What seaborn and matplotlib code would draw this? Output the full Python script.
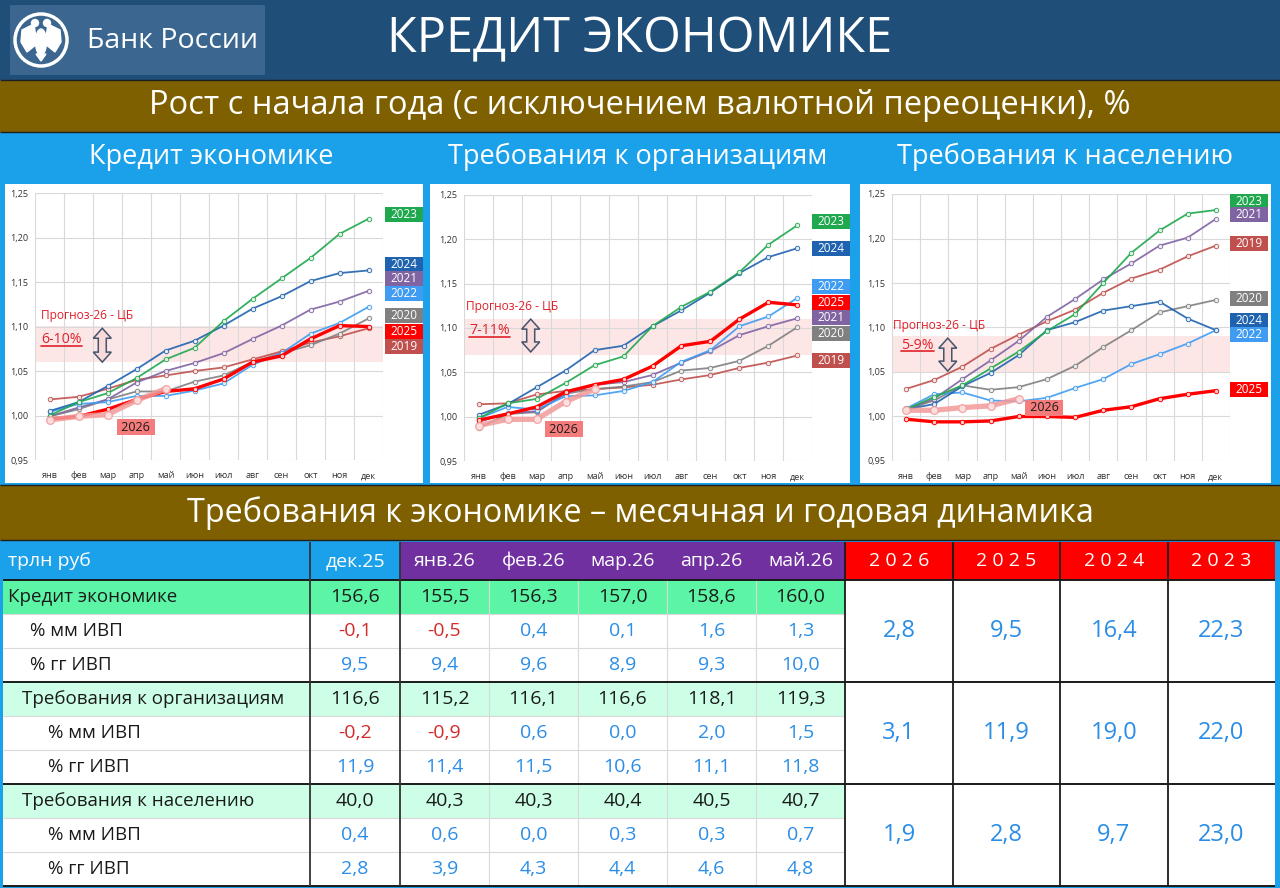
import numpy as np
import pandas as pd
import matplotlib
matplotlib.use("Agg")
import matplotlib.pyplot as plt
import matplotlib.patches as mpatches
import matplotlib.transforms as mtransforms
from matplotlib.lines import Line2D
import seaborn as sns

months = ["янв", "фев", "мар", "апр", "май", "июн", "июл", "авг", "сен", "окт", "ноя", "дек"]
years = ["2019", "2020", "2021", "2022", "2024", "2023", "2025", "2026"]
nan = np.nan

# Кредит экономике, рост с начала года
credit = {
    "2019": [1.018, 1.021, 1.030, 1.040, 1.045, 1.050, 1.054, 1.063, 1.072, 1.082, 1.089, 1.098],
    "2020": [0.999, 1.007, 1.018, 1.027, 1.027, 1.038, 1.045, 1.060, 1.070, 1.079, 1.092, 1.109],
    "2021": [0.999, 1.009, 1.018, 1.037, 1.050, 1.059, 1.070, 1.086, 1.101, 1.119, 1.128, 1.140],
    "2022": [1.004, 1.013, 1.015, 1.022, 1.022, 1.028, 1.036, 1.057, 1.070, 1.092, 1.104, 1.122],
    "2023": [1.000, 1.015, 1.025, 1.042, 1.063, 1.076, 1.106, 1.131, 1.154, 1.177, 1.204, 1.221],
    "2024": [1.005, 1.015, 1.033, 1.052, 1.073, 1.084, 1.101, 1.120, 1.134, 1.151, 1.160, 1.163],
    "2025": [0.996, 0.999, 1.007, 1.018, 1.027, 1.030, 1.041, 1.060, 1.067, 1.086, 1.101, 1.100],
    "2026": [0.995, 0.999, 1.001, 1.017, 1.030, nan, nan, nan, nan, nan, nan, nan],
}
# Требования к организациям
corp = {
    "2019": [1.014, 1.015, 1.025, 1.029, 1.031, 1.033, 1.036, 1.042, 1.047, 1.055, 1.061, 1.069],
    "2020": [0.987, 1.003, 1.005, 1.026, 1.031, 1.034, 1.039, 1.052, 1.055, 1.063, 1.080, 1.101],
    "2021": [0.994, 1.004, 1.006, 1.026, 1.036, 1.039, 1.047, 1.061, 1.074, 1.092, 1.102, 1.111],
    "2022": [0.998, 1.011, 1.008, 1.023, 1.024, 1.029, 1.039, 1.062, 1.075, 1.102, 1.113, 1.134],
    "2023": [0.998, 1.015, 1.020, 1.038, 1.058, 1.068, 1.102, 1.124, 1.141, 1.163, 1.194, 1.216],
    "2024": [1.002, 1.014, 1.033, 1.052, 1.075, 1.080, 1.102, 1.120, 1.140, 1.162, 1.180, 1.190],
    "2025": [0.996, 1.003, 1.011, 1.028, 1.036, 1.042, 1.057, 1.080, 1.085, 1.110, 1.129, 1.126],
    "2026": [0.990, 0.997, 0.997, 1.017, 1.031, nan, nan, nan, nan, nan, nan, nan],
}
# Требования к населению
house = {
    "2019": [1.031, 1.041, 1.056, 1.076, 1.092, 1.107, 1.120, 1.139, 1.155, 1.165, 1.180, 1.192],
    "2020": [1.008, 1.018, 1.035, 1.030, 1.033, 1.042, 1.057, 1.078, 1.097, 1.117, 1.124, 1.131],
    "2021": [1.008, 1.020, 1.042, 1.063, 1.085, 1.112, 1.132, 1.154, 1.172, 1.192, 1.201, 1.222],
    "2022": [1.009, 1.025, 1.027, 1.018, 1.017, 1.021, 1.032, 1.042, 1.059, 1.070, 1.082, 1.097],
    "2023": [1.008, 1.022, 1.035, 1.054, 1.073, 1.096, 1.115, 1.150, 1.184, 1.209, 1.228, 1.232],
    "2024": [1.008, 1.014, 1.034, 1.049, 1.069, 1.097, 1.106, 1.119, 1.124, 1.129, 1.110, 1.097],
    "2025": [0.997, 0.994, 0.994, 0.995, 1.000, 1.000, 0.999, 1.007, 1.011, 1.020, 1.025, 1.029],
    "2026": [1.007, 1.007, 1.010, 1.012, 1.020, nan, nan, nan, nan, nan, nan, nan],
}

# где стоят подписи лет справа
credit_lbl = {"2023": 1.226, "2024": 1.170, "2021": 1.154, "2022": 1.137, "2020": 1.112, "2025": 1.094, "2019": 1.078}
corp_lbl = {"2023": 1.220, "2024": 1.190, "2022": 1.147, "2025": 1.129, "2021": 1.112, "2020": 1.094, "2019": 1.063}
house_lbl = {"2023": 1.242, "2021": 1.227, "2019": 1.194, "2020": 1.133, "2024": 1.108, "2022": 1.092, "2025": 1.030}

forecast_txt = ["6-10%", "7-11%", "5-9%"]
forecast_lo = [1.06, 1.07, 1.05]
forecast_hi = [1.10, 1.11, 1.09]

# таблица
table_cols = ["дек.25", "янв.26", "фев.26", "мар.26", "апр.26", "май.26"]
row_labels = ["Кредит экономике", "% мм ИВП", "% гг ИВП",
              "Требования к организациям", "% мм ИВП", "% гг ИВП",
              "Требования к населению", "% мм ИВП", "% гг ИВП"]
credit_level = [156.6, 155.5, 156.3, 157.0, 158.6, 160.0]
credit_mm = [-0.1, -0.5, 0.4, 0.1, 1.6, 1.3]
credit_yy = [9.5, 9.4, 9.6, 8.9, 9.3, 10.0]
corp_level = [116.6, 115.2, 116.1, 116.6, 118.1, 119.3]
corp_mm = [-0.2, -0.9, 0.6, 0.0, 2.0, 1.5]
corp_yy = [11.9, 11.4, 11.5, 10.6, 11.1, 11.8]
house_level = [40.0, 40.3, 40.3, 40.4, 40.5, 40.7]
house_mm = [0.4, 0.6, 0.0, 0.3, 0.3, 0.7]
house_yy = [2.8, 3.9, 4.3, 4.4, 4.6, 4.8]
year_cols = ["2 0 2 6", "2 0 2 5", "2 0 2 4", "2 0 2 3"]
credit_ytd = [2.8, 9.5, 16.4, 22.3]
corp_ytd = [3.1, 11.9, 19.0, 22.0]
house_ytd = [1.9, 2.8, 9.7, 23.0]

NAVY = "#1F4E79"
OLIVE = "#7F6000"
SKY = "#1BA1EA"
RED_TXT = "#E0202A"
BLUE_TXT = "#2A8DE6"
colors = {"2019": "#C0504D", "2020": "#808080", "2021": "#8064A2", "2022": "#3F9CF2",
          "2023": "#1FA84E", "2024": "#1F63B0", "2025": "#FF0000", "2026": "#F39A9A"}

sns.set_style("white")
plt.rcParams["font.family"] = ["Open Sans", "DejaVu Sans"]

fig = plt.figure(figsize=(12.8, 8.88), dpi=100)
bg = fig.add_axes([0, 0, 1, 1], zorder=0)
bg.set_xlim(0, 1280)
bg.set_ylim(888, 0)
bg.axis("off")


def rect(x0, y0, x1, y1, color):
    bg.add_patch(mpatches.Rectangle((x0, y0), x1 - x0, y1 - y0, facecolor=color, edgecolor="none"))


def line(xs, ys, color="#1a1a1a", lw=1.0):
    bg.plot(xs, ys, color=color, lw=lw, solid_capstyle="butt")


def fmt(v):
    return f"{v:.1f}".replace(".", ",")


# фон и полосы
rect(0, 0, 1280, 888, SKY)
rect(0, 0, 1280, 80, NAVY)
rect(10, 5, 265, 75, "#3A6690")
rect(0, 81, 1280, 132, OLIVE)
rect(0, 485, 1280, 540, OLIVE)
for y in [80.5, 132, 485, 540]:
    line([0, 1280], [y, y], "#202020", 1.0)
for x0, x1 in [(5, 423), (430, 850), (860, 1271)]:
    rect(x0, 184, x1, 483, "white")

# эмблема
bg.add_patch(mpatches.Circle((41, 40), 26, facecolor="none", edgecolor="white", lw=2.5))
bg.add_patch(mpatches.Polygon([(22, 30), (34, 24), (37, 44), (27, 52), (21, 42)], facecolor="white"))
bg.add_patch(mpatches.Polygon([(60, 30), (48, 24), (45, 44), (55, 52), (61, 42)], facecolor="white"))
bg.add_patch(mpatches.Ellipse((41, 42), 11, 26, facecolor="white"))
bg.add_patch(mpatches.Circle((35, 23), 3.5, facecolor="white"))
bg.add_patch(mpatches.Circle((47, 23), 3.5, facecolor="white"))
bg.add_patch(mpatches.Polygon([(36, 54), (46, 54), (41, 61)], facecolor="white"))
bg.text(87, 41, "Банк России", color="white", fontsize=20.5, ha="left", va="center")

bg.text(640, 40, "КРЕДИТ ЭКОНОМИКЕ", color="white", fontsize=35, ha="center", va="center")
bg.text(640, 106, "Рост с начала года (с исключением валютной переоценки), %", color="white",
        fontsize=23.5, ha="center", va="center")
for x, s in [(211, "Кредит экономике"), (638, "Требования к организациям"), (1065, "Требования к населению")]:
    bg.text(x, 157, s, color="white", fontsize=19.5, ha="center", va="center")
bg.text(640, 513, "Требования к экономике – месячная и годовая динамика", color="white",
        fontsize=23.3, ha="center", va="center")

# графики
chart_pos = [(35, 383, 193, 460), (464, 812, 195, 461), (892, 1230, 194, 461)]
chart_data = [credit, corp, house]
chart_lbl = [credit_lbl, corp_lbl, house_lbl]
prog_pos = [((-0.31, 1.112), (-0.28, 1.085), (1.82, 1.098, 1.060), (2.97, 0.987)),
            ((-0.44, 1.124), (-0.33, 1.097), (1.80, 1.110, 1.073), (2.95, 0.986)),
            ((-0.47, 1.102), (-0.18, 1.080), (1.48, 1.088, 1.051), (4.90, 1.010))]
underline_txt = []

for i, (data, lbl) in enumerate(zip(chart_data, chart_lbl)):
    x0, x1, y0, y1 = chart_pos[i]
    ax = fig.add_axes([x0 / 1280, 1 - y1 / 888, (x1 - x0) / 1280, (y1 - y0) / 888], zorder=2)
    df = pd.DataFrame([(yr, m, v) for yr in years for m, v in enumerate(data[yr])],
                      columns=["year", "month", "value"]).dropna()
    ax.axhspan(forecast_lo[i], forecast_hi[i], color="#FDE6E6", zorder=0.5, lw=0)
    for yr in years:
        d = df[df["year"] == yr]
        if yr == "2026":
            sns.lineplot(data=d, x="month", y="value", color=colors[yr], lw=3.8, alpha=0.85,
                         marker="o", markersize=5.5, markerfacecolor="#FFE8E8",
                         markeredgecolor=colors[yr], markeredgewidth=1, ax=ax, zorder=6)
        elif yr == "2025":
            sns.lineplot(data=d, x="month", y="value", color=colors[yr], lw=2.4,
                         marker="o", markersize=3.2, markerfacecolor="#FFD0D0",
                         markeredgecolor=colors[yr], markeredgewidth=0.7, ax=ax, zorder=5)
        else:
            sns.lineplot(data=d, x="month", y="value", color=colors[yr], lw=1.3, alpha=0.9,
                         marker="o", markersize=3.2, markerfacecolor="#F2F2F2",
                         markeredgecolor=colors[yr], markeredgewidth=0.7, ax=ax, zorder=4)
    ax.set_xlim(-0.5, 11.5)
    ax.set_ylim(0.95, 1.25)
    yt = [0.95, 1.00, 1.05, 1.10, 1.15, 1.20, 1.25]
    ax.set_yticks(yt)
    ax.set_yticklabels([f"{t:.2f}".replace(".", ",") for t in yt])
    ax.set_xticks(range(12))
    ax.set_xticklabels(months)
    ax.set_xticks(np.arange(-0.5, 12, 1), minor=True)
    ax.grid(which="major", axis="y", color="#D9D9D9", lw=0.8)
    ax.grid(which="minor", axis="x", color="#D9D9D9", lw=0.8)
    ax.tick_params(which="both", length=0, labelsize=6.6, colors="#333333")
    ax.tick_params(axis="x", pad=8)
    ax.tick_params(axis="y", pad=5)
    ax.set_xlabel("")
    ax.set_ylabel("")
    for s in ax.spines.values():
        s.set_visible(False)
    ax.set_axisbelow(True)

    # подписи лет справа
    tr = ax.get_yaxis_transform()
    xl = 1.006 if i == 0 else 1.0
    bw = 38 / (x1 - x0)
    bh = 15 * 0.30 / (y1 - y0)
    for yr, yv in lbl.items():
        ax.add_patch(mpatches.Rectangle((xl, yv - bh / 2), bw, bh, transform=tr, clip_on=False,
                                        facecolor=colors[yr], edgecolor="none", zorder=7))
        ax.text(xl + bw / 2, yv, yr, transform=tr, ha="center", va="center", color="white",
                fontsize=8.5, clip_on=False, zorder=8)

    (tx, ty), (rx, ry), (axx, ay0, ay1), (lx, ly) = prog_pos[i]
    ax.text(tx, ty, "Прогноз-26 - ЦБ", color=RED_TXT, fontsize=8.6, ha="left", va="center", zorder=8)
    t = ax.text(rx, ry, forecast_txt[i], color=RED_TXT, fontsize=10.2, ha="left", va="center", zorder=8)
    underline_txt.append(t)

    # двойная стрелка, форма в пикселях вокруг центра
    hh = abs(ay0 - ay1) / 0.30 * (y1 - y0) / 2
    hl, hw, sw = 10, 9, 4
    shape = [(0, hh), (hw, hh - hl), (sw, hh - hl), (sw, -hh + hl), (hw, -hh + hl), (0, -hh),
             (-hw, -hh + hl), (-sw, -hh + hl), (-sw, hh - hl), (-hw, hh - hl)]
    at = mtransforms.Affine2D() + mtransforms.ScaledTranslation(axx, (ay0 + ay1) / 2, ax.transData)
    ax.add_patch(mpatches.Polygon(shape, closed=True, transform=at, facecolor="#F9DADA",
                                  edgecolor="#44546A", lw=1.1, zorder=8))

    ax.text(lx, ly, " 2026 ", color="#1a1a1a", fontsize=9, ha="center", va="center", zorder=8,
            bbox=dict(boxstyle="square,pad=0.12", facecolor="#F47C7C", edgecolor="none"))

# таблица
col_x = [3, 310, 400, 489, 578, 667, 756, 845, 953, 1060, 1168, 1275]
row_y = [580 + 34 * k for k in range(10)]
rect(3, 542, 1275, 886, "white")
rect(3, 542, 400, 580, SKY)
rect(400, 542, 845, 580, "#7030A0")
rect(845, 542, 1275, 580, "#FF0000")
bg.text(8, 561, "трлн руб", color="white", fontsize=14, ha="left", va="center")
for j, c in enumerate(table_cols):
    bg.text((col_x[j + 1] + col_x[j + 2]) / 2, 561, c, color="white", fontsize=14, ha="center", va="center")
for j, c in enumerate(year_cols):
    bg.text((col_x[j + 7] + col_x[j + 8]) / 2, 561, c, color="white", fontsize=14, ha="center", va="center")

table_rows = [credit_level, credit_mm, credit_yy, corp_level, corp_mm, corp_yy, house_level, house_mm, house_yy]
label_x = [8, 30, 30, 22, 48, 48, 22, 48, 48]
row_bg = ["#5CF5A6", "white", "white", "#CCFFE6", "white", "white", "#CCFFE6", "white", "white"]
for r, vals in enumerate(table_rows):
    ya, yb = row_y[r], row_y[r + 1]
    yc = (ya + yb) / 2
    rect(3, ya, 845, yb, row_bg[r])
    bg.text(label_x[r], yc, row_labels[r], color="#1a1a1a", fontsize=13.5, ha="left", va="center")
    for j, v in enumerate(vals):
        if r % 3 == 0:
            c = "#1a1a1a"
        else:
            c = "#D42A2A" if v < 0 else BLUE_TXT
        bg.text((col_x[j + 1] + col_x[j + 2]) / 2, yc, fmt(v), color=c, fontsize=14,
                ha="center", va="center")
    if r % 3 != 0:
        line([3, 845], [ya, ya], "#D9D9D9", 0.8)

for x in col_x[3:7]:
    line([x, x], [580, 886], "#D9D9D9", 0.8)

for g, ytd in enumerate([credit_ytd, corp_ytd, house_ytd]):
    yc = (row_y[3 * g] + row_y[3 * g + 3]) / 2
    for j, v in enumerate(ytd):
        bg.text((col_x[j + 7] + col_x[j + 8]) / 2, yc, fmt(v), color=BLUE_TXT, fontsize=17,
                ha="center", va="center")

for y in [580, 682, 784, 886]:
    line([3, 1275], [y, y], "#1a1a1a", 1.4)
for x in [310, 400]:
    line([x, x], [542, 886], "#333333", 1.3)
for x in col_x[7:11]:
    line([x, x], [542, 886], "#1a1a1a", 1.3)

# подчеркивание прогноза
fig.canvas.draw()
for t in underline_txt:
    bb = t.get_window_extent()
    fig.add_artist(Line2D([bb.x0, bb.x1], [bb.y0 + 1.5, bb.y0 + 1.5], color=RED_TXT, lw=1.2,
                          transform=None, zorder=20))

fig.savefig("out.png", dpi=100)
